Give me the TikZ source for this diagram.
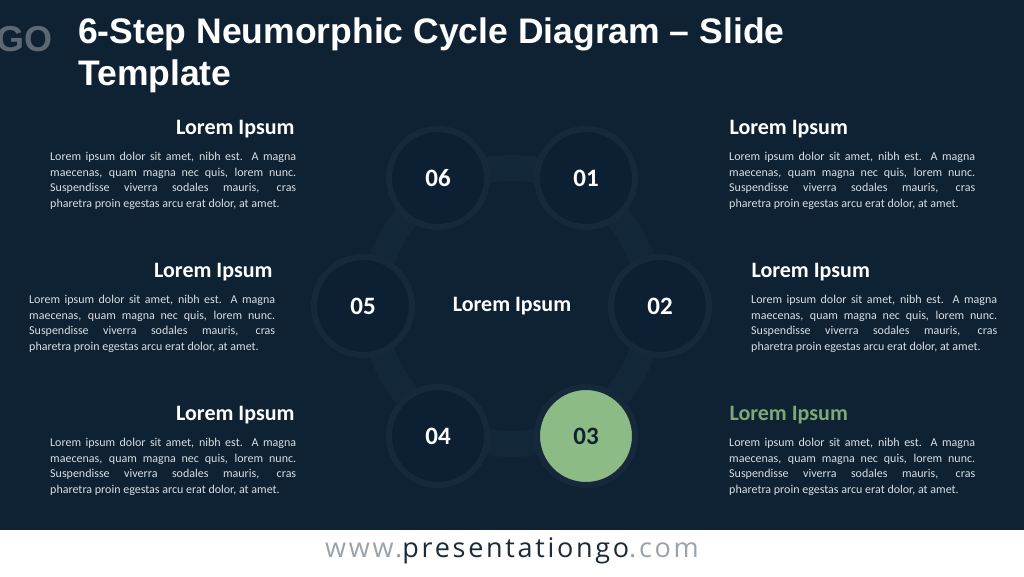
\documentclass[tikz,border=0pt]{standalone}
\usepackage{fontspec}
\setmainfont{Carlito}
\newfontfamily\titlefont{Liberation Sans}
\newfontfamily\webfont{Open Sans}
\definecolor{bgdark}{HTML}{0F2233}
\definecolor{bubble}{HTML}{0D2033}
\definecolor{ringc}{HTML}{13273A}
\definecolor{rimc}{HTML}{16293B}
\definecolor{bodytxt}{HTML}{D8DEE4}
\definecolor{greenc}{HTML}{8DBB86}
\definecolor{greenhead}{HTML}{7FA876}
\definecolor{footgray}{HTML}{9AA3AB}
\definecolor{footdark}{HTML}{1B2B3A}
\tikzset{
  stepdisc/.style={circle,minimum size=98pt,fill=bubble,draw=rimc,line width=6pt,
    text=white,font=\bfseries\fontsize{25}{25}\selectfont},
  headl/.style={anchor=east,text=white,font=\bfseries\fontsize{22}{24}\selectfont},
  headr/.style={anchor=west,text=white,font=\bfseries\fontsize{22}{24}\selectfont},
  bodytext/.style={anchor=north west,text=bodytxt,text width=246pt,align=justify,
    inner sep=0pt,font=\fontsize{12}{15.5}\selectfont}
}
\newcommand\lorembody{Lorem ipsum dolor sit amet, nibh est. A magna\linebreak maecenas, quam magna nec quis, lorem nunc.\linebreak Suspendisse viverra sodales mauris, cras\linebreak pharetra proin egestas arcu erat dolor, at amet.}
\begin{document}
\begin{tikzpicture}[x=1pt,y=-1pt]
\fill[bgdark] (0,0) rectangle (1024,530);
\fill[white] (0,530) rectangle (1024,576);
\useasboundingbox (0,0) rectangle (1024,576);
% logo and title
\node[anchor=east,text=footgray!55!bgdark,font=\titlefont\bfseries\fontsize{36}{36}\selectfont,inner sep=0pt] (logo) at (53,39) {GO};
\node[anchor=north west,text=white,align=left,inner sep=0pt,
  font=\titlefont\bfseries\fontsize{35.5}{42}\selectfont] (title) at (78,18)
  {6-Step Neumorphic Cycle Diagram – Slide\\Template};
% ring behind the steps
\draw[ringc,line width=26pt] (512,306) circle (138);
% steps
\node[stepdisc] (s1) at (586,178) {01};
\node[stepdisc] (s2) at (660,306) {02};
\node[stepdisc,fill=greenc,text=bgdark] (s3) at (586,436) {03};
\node[stepdisc] (s4) at (438,436) {04};
\node[stepdisc] (s5) at (363,306) {05};
\node[stepdisc] (s6) at (438,178) {06};
\node[text=white,font=\bfseries\fontsize{22}{24}\selectfont] (hub) at (512,306) {Lorem Ipsum};
% text blocks, right side
\node[headr] (h1) at (726,129) {Lorem Ipsum};
\node[bodytext] (t1) at (729,152) {\lorembody};
\node[headr] (h2) at (748,272) {Lorem Ipsum};
\node[bodytext] (t2) at (751,295) {\lorembody};
\node[headr,text=greenhead] (h3) at (726,415) {Lorem Ipsum};
\node[bodytext] (t3) at (729,438) {\lorembody};
% text blocks, left side
\node[headl] (h6) at (298,129) {Lorem Ipsum};
\node[bodytext] (t6) at (50,152) {\lorembody};
\node[headl] (h5) at (276,272) {Lorem Ipsum};
\node[bodytext] (t5) at (29,295) {\lorembody};
\node[headl] (h4) at (298,415) {Lorem Ipsum};
\node[bodytext] (t4) at (50,438) {\lorembody};
% footer
\node[font=\webfont\fontsize{27}{27}\selectfont] (web) at (512,551)
  {\addfontfeature{LetterSpace=10}\textcolor{footgray}{www.}\textcolor{footdark}{presentationgo}\textcolor{footgray}{.com}};
\end{tikzpicture}
\end{document}
